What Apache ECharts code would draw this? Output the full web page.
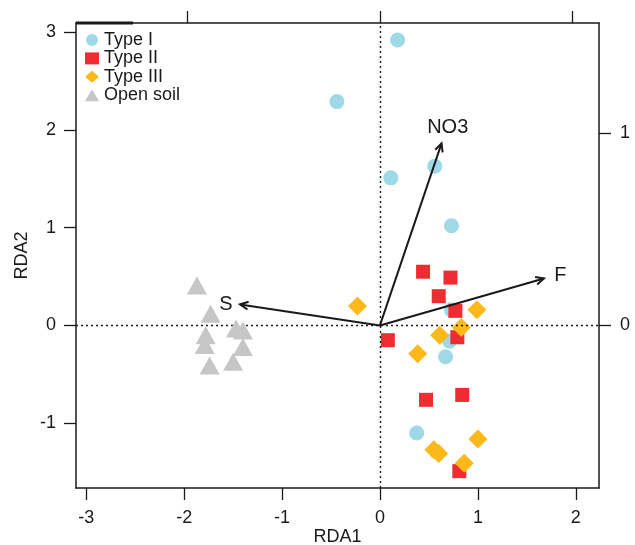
<!DOCTYPE html>
<html>
<head>
<meta charset="utf-8">
<script src="https://cdn.jsdelivr.net/npm/echarts@6/dist/echarts.min.js"></script>
<style>
  html, body { margin: 0; padding: 0; background: #fff; }
  #rda { width: 635px; height: 545px; }
</style>
</head>
<body>
<div id="rda"></div>
<script>
// site scores (RDA1, RDA2)
var typeI = [[0.18, 2.92], [-0.44, 2.29], [0.56, 1.63], [0.11, 1.51], [0.73, 1.02],
    [0.73, 0.16], [0.71, -0.16], [0.67, -0.32], [0.375, -1.10]];
var typeII = [[0.44, 0.55], [0.72, 0.49], [0.60, 0.30], [0.77, 0.15], [0.79, -0.12],
    [0.08, -0.15], [0.47, -0.76], [0.84, -0.71], [0.81, -1.49]];
var typeIII = [[-0.23, 0.20], [0.99, 0.16], [0.83, -0.02], [0.61, -0.10], [0.385, -0.29],
    [1.00, -1.16], [0.55, -1.27], [0.60, -1.31], [0.86, -1.41]];
var openSoil = [[-1.87, 0.41], [-1.73, 0.12], [-1.47, -0.03], [-1.40, -0.05], [-1.78, -0.10],
    [-1.79, -0.20], [-1.40, -0.22], [-1.74, -0.41], [-1.50, -0.37]];

// environmental vectors (top / right axis units)
var envNames = ['NO3', 'F', 'S'];
var envX = [0.32, 0.852, -0.727];
var envY = [0.945, 0.244, 0.109];

// tick labels
var xTicks = [-3, -2, -1, 0, 1, 2];
var yTicks = [-1, 0, 1, 2, 3];
var topTicks = [-1, 0, 1];
var rightTicks = [0, 1];

var FONT = '"Liberation Sans", Arial, Helvetica, sans-serif';
var INK = '#1a1a1a';

var envData = [];
for (var i = 0; i < envNames.length; i++) {
    envData.push([envX[i], envY[i], envNames[i]]);
}

var dom = document.getElementById('rda');
var myChart = echarts.init(dom, null, {renderer: 'canvas'});

function arrowItem(params, api) {
    var p0 = api.coord([0, 0]);
    var p1 = api.coord([api.value(0), api.value(1)]);
    var ang = Math.atan2(p1[1] - p0[1], p1[0] - p0[0]);
    var len = 9, a = Math.PI / 7;
    var h1 = [p1[0] - len * Math.cos(ang - a), p1[1] - len * Math.sin(ang - a)];
    var h2 = [p1[0] - len * Math.cos(ang + a), p1[1] - len * Math.sin(ang + a)];
    // label sits a bit beyond the tip (1.1x, like vegan)
    var pl = api.coord([api.value(0) * 1.1, api.value(1) * 1.1]);
    return {
        type: 'group',
        children: [
            {type: 'line', shape: {x1: p0[0], y1: p0[1], x2: p1[0], y2: p1[1]},
                style: {stroke: INK, lineWidth: 2}},
            {type: 'polyline', shape: {points: [h1, p1, h2]},
                style: {stroke: INK, lineWidth: 2, fill: null}},
            {type: 'text', x: pl[0], y: pl[1] + 2,
                style: {text: envNames[params.dataIndex], align: 'center', verticalAlign: 'middle',
                    fill: INK, fontSize: 20, fontFamily: FONT}}
        ]
    };
}

var tickStyle = {show: true, length: 12, lineStyle: {color: INK, width: 1.3}};
var lineStyleAx = {show: true, onZero: false, lineStyle: {color: INK, width: 1.5}};

option = {
    backgroundColor: '#fff',
    animation: false,
    grid: {left: 76, right: 36, top: 23, bottom: 57, outerBoundsMode: 'none', containLabel: false},
    legend: {
        orient: 'vertical',
        left: 85,
        top: 31,
        padding: 0,
        itemWidth: 14,
        itemHeight: 12,
        itemGap: 0.4,
        textStyle: {color: INK, fontSize: 18, fontFamily: FONT, lineHeight: 18},
        data: ['Type I', 'Type II', 'Type III', 'Open soil']
    },
    xAxis: [
        {
            type: 'value', position: 'bottom', min: -3.105, max: 2.237,
            name: 'RDA1', nameLocation: 'middle', nameGap: 40, nameMoveOverlap: false,
            nameTextStyle: {color: INK, fontSize: 18, fontFamily: FONT},
            axisLine: lineStyleAx,
            axisTick: echarts.util.merge({customValues: xTicks}, tickStyle, true),
            axisLabel: {customValues: xTicks, color: INK, fontSize: 18, fontFamily: FONT, margin: 21},
            splitLine: {show: false}
        },
        {
            type: 'value', position: 'top', min: -1.579, max: 1.138,
            axisLine: lineStyleAx,
            axisTick: echarts.util.merge({customValues: topTicks}, tickStyle, true),
            axisLabel: {show: false},
            splitLine: {show: false}
        }
    ],
    yAxis: [
        {
            type: 'value', position: 'left', min: -1.662, max: 3.094,
            name: 'RDA2', nameLocation: 'middle', nameGap: 45, nameMoveOverlap: false,
            nameTextStyle: {color: INK, fontSize: 18, fontFamily: FONT},
            axisLine: lineStyleAx,
            axisTick: echarts.util.merge({customValues: yTicks}, tickStyle, true),
            axisLabel: {customValues: yTicks, color: INK, fontSize: 18, fontFamily: FONT, margin: 20},
            splitLine: {show: false}
        },
        {
            type: 'value', position: 'right', min: -0.844, max: 1.570,
            axisLine: lineStyleAx,
            axisTick: echarts.util.merge({customValues: rightTicks}, tickStyle, true),
            axisLabel: {customValues: rightTicks, color: INK, fontSize: 18, fontFamily: FONT, margin: 21},
            splitLine: {show: false}
        }
    ],
    graphic: [
        // thick bit on the top-left frame
        {type: 'line', shape: {x1: 76, y1: 23, x2: 133, y2: 23}, style: {stroke: INK, lineWidth: 3}, z: 100}
    ],
    series: [
        {
            // dotted zero lines
            type: 'scatter', data: [], z: 1, silent: true,
            markLine: {
                silent: true, symbol: 'none', animation: false,
                label: {show: false},
                lineStyle: {type: [2, 3], color: INK, width: 1.4},
                data: [{xAxis: 0}, {yAxis: 0}]
            }
        },
        {name: 'Type I', type: 'scatter', symbol: 'circle', symbolSize: 15,
            itemStyle: {color: '#9fd8e6', opacity: 1}, data: typeI, z: 2},
        {name: 'Type II', type: 'scatter', symbol: 'rect', symbolSize: 14,
            itemStyle: {color: '#ee2d33', opacity: 1}, data: typeII, z: 3},
        {name: 'Type III', type: 'scatter', symbol: 'diamond', symbolSize: 19,
            itemStyle: {color: '#fdb81a', opacity: 1}, data: typeIII, z: 4},
        {name: 'Open soil', type: 'scatter', symbol: 'triangle', symbolSize: [20, 18],
            itemStyle: {color: '#c6c6c6', opacity: 1}, data: openSoil, z: 5},
        {
            type: 'custom', xAxisIndex: 1, yAxisIndex: 1, z: 10,
            renderItem: arrowItem,
            data: envData
        }
    ]
};

myChart.setOption(option);
</script>
</body>
</html>
